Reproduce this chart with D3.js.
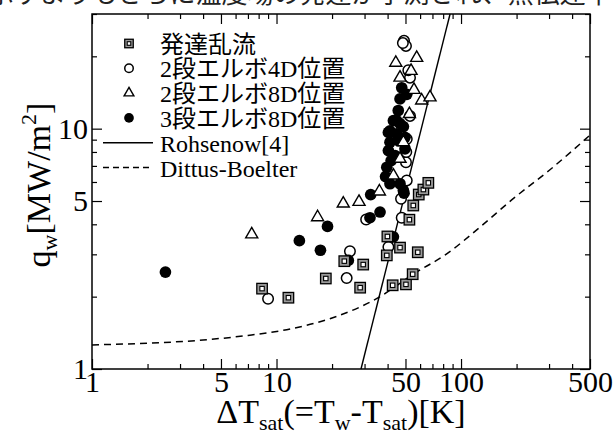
<!DOCTYPE html>
<html>
<head>
<meta charset="utf-8">
<script src="https://cdn.jsdelivr.net/npm/d3@7"></script>
<style>
  body { margin: 0; background: #fff; }
  svg { display: block; font-family: "Liberation Serif", "Times New Roman", "Noto Sans CJK JP", serif; }
</style>
</head>
<body>
<svg id="chart" width="613" height="431"></svg>
<script>
// clipped line of body text above the figure
const topLine = "示すよりもさらに温度場の発達が予測され、熱伝達率";

// [ΔTsat (K), qw (MW/m2)]
const devTurb = [
  [8.35, 2.16], [11.6, 1.98], [18.5, 2.38], [23.3, 2.81], [29.5, 2.72], [28.4, 2.18],
  [39.9, 3.56], [39.6, 2.97], [46.7, 3.2], [58.3, 3.06], [42.6, 2.23], [50.3, 2.25],
  [54.7, 2.48], [52.5, 4.18], [55.1, 4.79], [59.0, 5.32], [62.5, 5.58], [66.5, 5.95]
];
const elbow2at4D = [
  [9.0, 1.96], [24.0, 2.39], [25.0, 3.09], [30.6, 4.19], [40.4, 3.22], [47.7, 4.26],
  [47.3, 5.11], [50.8, 6.09], [50.3, 7.25], [50.5, 8.0], [50.8, 9.06], [52.9, 11.3],
  [52.9, 16.3], [51.8, 17.5], [49.1, 23.2], [50.3, 22.1], [48.4, 22.7]
];
const elbow2at8D = [
  [7.34, 3.63], [16.7, 4.28], [23.0, 4.88], [28.0, 4.96], [36.1, 5.48], [43.0, 6.38],
  [46.7, 7.49], [48.7, 8.78], [52.5, 11.5], [61.2, 13.1], [67.9, 13.5], [55.6, 14.5],
  [46.7, 16.3], [53.6, 17.4], [44.3, 18.8], [57.5, 19.7]
];
const elbow3at8D = [
  [2.5, 2.53], [13.3, 3.42], [17.3, 3.12], [18.9, 3.92], [24.5, 2.83], [32.1, 4.26],
  [36.4, 4.5], [32.4, 5.32], [43.0, 3.55], [49.1, 5.39], [41.2, 5.9], [46.7, 5.9],
  [39.6, 6.91], [40.4, 8.11], [43.9, 7.73], [49.7, 8.24], [41.2, 8.78], [45.7, 8.92],
  [40.4, 9.65], [44.8, 9.51], [49.7, 9.2], [43.0, 10.8], [46.7, 10.5], [45.7, 11.9],
  [46.7, 13.3], [50.8, 13.9], [47.7, 14.8], [48.7, 5.53], [41.8, 7.37], [39.0, 6.32],
  [41.2, 9.8], [48.7, 10.2], [44.8, 10.8]
];

// correlations
const rohsenow = [[28.7, 1], [87.2, 30]];
const dittusBoelter = [
  [1, 1.26], [2, 1.28], [4, 1.32], [7, 1.38], [12, 1.47], [20, 1.63], [36, 1.99],
  [55, 2.48], [84, 3.02], [127, 3.9], [191, 5.1], [300, 6.7], [500, 9.4]
];

const xTicks = [1,2,3,4,5,6,7,8,9,10,20,30,40,50,60,70,80,90,100,200,300,400,500];
const xMajor = [1, 5, 10, 50, 100, 500];
const yTicks = [1,2,3,4,5,6,7,8,9,10,20,30];
const yMajor = [1, 5, 10];

const legendLabels = ["発達乱流", "2段エルボ4D位置", "2段エルボ8D位置", "3段エルボ8D位置", "Rohsenow[4]", "Dittus-Boelter"];

const svg = d3.select("#chart");
const x = d3.scaleLog().domain([1, 500]).range([92, 590]);
const y = d3.scaleLog().domain([1, 30]).range([369, 14]);
const [x0, x1] = x.range();
const [y0, y1] = y.range();

svg.append("text")
  .attr("x", -12)
  .attr("y", 3)
  .attr("font-family", '"Noto Sans CJK JP", sans-serif')
  .attr("font-size", 26)
  .attr("fill", "#222")
  .text(topLine);

// axes: ticks inward on all four sides
function ticks(axis, vals, len, pad) {
  return axis.tickValues(vals).tickSizeInner(-len).tickSizeOuter(0)
    .tickPadding(pad || 0)
    .tickFormat(pad ? d3.format("d") : "");
}
function styleAxis(g) {
  g.select(".domain").remove();
  g.selectAll(".tick line").attr("stroke", "#000").attr("stroke-width", 1.2);
  g.selectAll(".tick text").attr("font-size", 30).attr("fill", "#000")
    .attr("font-family", '"Liberation Serif", serif');
}
const minorX = xTicks.filter(v => !xMajor.includes(v));
const minorY = yTicks.filter(v => !yMajor.includes(v));

svg.append("g").attr("transform", `translate(0,${y0})`).call(ticks(d3.axisBottom(x), minorX, 5)).call(styleAxis);
svg.append("g").attr("transform", `translate(0,${y0})`).call(ticks(d3.axisBottom(x), xMajor, 10, 2)).call(styleAxis);
svg.append("g").attr("transform", `translate(0,${y1})`).call(ticks(d3.axisTop(x), minorX, 5)).call(styleAxis);
svg.append("g").attr("transform", `translate(0,${y1})`).call(ticks(d3.axisTop(x), xMajor, 10)).call(styleAxis);
svg.append("g").attr("transform", `translate(${x0},0)`).call(ticks(d3.axisLeft(y), minorY, 5)).call(styleAxis);
svg.append("g").attr("transform", `translate(${x0},0)`).call(ticks(d3.axisLeft(y), yMajor, 10, 4)).call(styleAxis);
svg.append("g").attr("transform", `translate(${x1},0)`).call(ticks(d3.axisRight(y), minorY, 5)).call(styleAxis);
svg.append("g").attr("transform", `translate(${x1},0)`).call(ticks(d3.axisRight(y), yMajor, 10)).call(styleAxis);

svg.append("rect")
  .attr("x", x0).attr("y", y1)
  .attr("width", x1 - x0).attr("height", y0 - y1)
  .attr("fill", "none").attr("stroke", "#000").attr("stroke-width", 1.5);

// correlation curves
const line = d3.line().x(d => x(d[0])).y(d => y(d[1])).curve(d3.curveMonotoneX);
svg.append("path").datum(dittusBoelter).attr("d", line)
  .attr("fill", "none").attr("stroke", "#000").attr("stroke-width", 1.5).attr("stroke-dasharray", "7,5");
svg.append("path").datum(rohsenow).attr("d", d3.line().x(d => x(d[0])).y(d => y(d[1])))
  .attr("fill", "none").attr("stroke", "#000").attr("stroke-width", 1.4);

// markers
function marker(g, type, cx, cy, s) {
  if (type === "square") {
    g.append("rect").attr("x", cx - s / 2).attr("y", cy - s / 2).attr("width", s).attr("height", s)
      .attr("fill", "#9a9a9a").attr("stroke", "#000").attr("stroke-width", 1.3);
    const w = s * 0.42;
    g.append("rect").attr("x", cx - w / 2).attr("y", cy - w / 2).attr("width", w).attr("height", w)
      .attr("fill", "#fff").attr("stroke", "#000").attr("stroke-width", 1.1);
  } else if (type === "circle") {
    g.append("circle").attr("cx", cx).attr("cy", cy).attr("r", s / 2)
      .attr("fill", "#fff").attr("stroke", "#000").attr("stroke-width", 1.5);
  } else if (type === "dot") {
    g.append("circle").attr("cx", cx).attr("cy", cy).attr("r", s / 2 + 0.6).attr("fill", "#000");
  } else {
    const side = s * 1.15;
    g.append("path").attr("transform", `translate(${cx},${cy})`)
      .attr("d", d3.symbol(d3.symbolTriangle, Math.sqrt(3) / 4 * side * side)())
      .attr("fill", "#fff").attr("stroke", "#000").attr("stroke-width", 1.4);
  }
}

const series = [
  { data: elbow2at4D, type: "circle" },
  { data: elbow3at8D, type: "dot" },
  { data: elbow2at8D, type: "triangle" },
  { data: devTurb, type: "square" }
];
series.forEach(s => {
  const g = svg.append("g");
  s.data.forEach(d => marker(g, s.type, x(d[0]), y(d[1]), 10.5));
});

// legend
const legendTypes = ["square", "circle", "triangle", "dot", "solid", "dashed"];
const lg = svg.append("g");
legendLabels.forEach((label, i) => {
  const ly = 43.5 + i * 24.8;
  const t = legendTypes[i];
  if (t === "solid" || t === "dashed") {
    lg.append("line").attr("x1", 103).attr("x2", 153).attr("y1", ly).attr("y2", ly)
      .attr("stroke", "#000").attr("stroke-width", 1.4)
      .attr("stroke-dasharray", t === "dashed" ? "6,4" : null);
  } else {
    marker(lg, t, 129, ly, 8.5);
  }
  lg.append("text").attr("x", 160).attr("y", ly + 9)
    .attr("font-size", 24).attr("fill", "#000").text(label);
});

// axis titles
const xt = svg.append("text").attr("x", (x0 + x1) / 2).attr("y", 423)
  .attr("text-anchor", "middle").attr("font-size", 34).attr("fill", "#000");
xt.append("tspan").text("ΔT");
xt.append("tspan").attr("font-size", 22).attr("dy", 7).text("sat");
xt.append("tspan").attr("dy", -7).text("(=T");
xt.append("tspan").attr("font-size", 22).attr("dy", 7).text("w");
xt.append("tspan").attr("dy", -7).text("-T");
xt.append("tspan").attr("font-size", 22).attr("dy", 7).text("sat");
xt.append("tspan").attr("dy", -7).text(")[K]");

const yt = svg.append("text").attr("transform", "translate(50,185) rotate(-90)")
  .attr("text-anchor", "middle").attr("font-size", 34).attr("fill", "#000");
yt.append("tspan").text("q");
yt.append("tspan").attr("font-size", 22).attr("dy", 7).text("w");
yt.append("tspan").attr("dy", -7).text("[MW/m");
yt.append("tspan").attr("font-size", 22).attr("dy", -14).text("2");
yt.append("tspan").attr("dy", 14).text("]");
</script>
</body>
</html>
